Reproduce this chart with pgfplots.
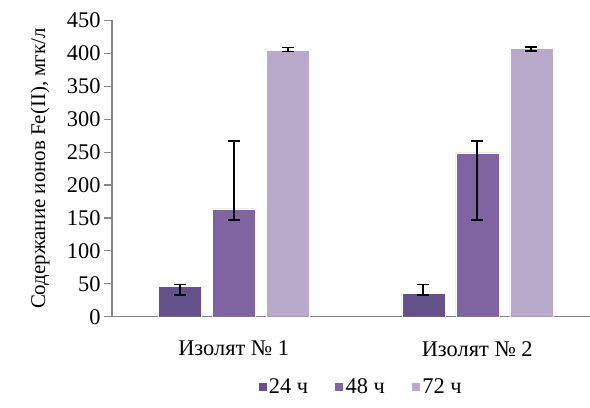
\documentclass[border=0pt]{standalone}
\usepackage{pgfplots}
\pgfplotsset{compat=1.18}
\usepackage{fontspec}
\setmainfont{Liberation Serif}
\definecolor{c24}{HTML}{65518A}
\definecolor{c48}{HTML}{8064A2}
\definecolor{c72}{HTML}{B7AACA}
\definecolor{axgray}{HTML}{868686}
\begin{document}
\begin{tikzpicture}[x=1bp,y=1bp]
\useasboundingbox (0,0) rectangle (590,407);
\begin{axis}[
  scale only axis,
  width=478bp, height=296.2bp,
  at={(112bp,90.3bp)}, anchor=south west,
  ybar=11bp, bar width=43bp,
  xmin=-0.5, xmax=1.463,
  ymin=0, ymax=450,
  ytick={0,50,...,450},
  xtick={0,1},
  xticklabels={Изолят № 1, Изолят № 2},
  extra x ticks={0.5},
  extra x tick labels={},
  extra x tick style={major tick length=6bp, tick style={draw=axgray, line width=1.2pt}},
  major x tick style={draw=none},
  xticklabel style={font=\fontsize{22.5}{24}\selectfont, anchor=center, yshift=-24bp},
  yticklabel style={font=\fontsize{22.5}{24}\selectfont},
  axis x line*=bottom, axis y line*=left,
  axis line style={draw=axgray, line width=1.2pt, -},
  y tick style={draw=axgray, line width=1.2pt},
  tick align=outside,
  major tick length=8bp,
  separate axis lines,
  /pgf/number format/assume math mode=true,
  ylabel={Содержание ионов Fe(II), мгк/л},
  every axis y label/.style={at={(axis description cs:0,0.5)}, rotate=90, anchor=center, yshift=72bp,
    font=\fontsize{21}{23}\selectfont},
  legend style={draw=none, fill=none, legend columns=3, at={(axis description cs:0.52,-0.236)}, anchor=center,
    font=\fontsize{22.5}{24}\selectfont, /tikz/every even column/.append style={column sep=24bp}},
  legend image code/.code={\fill[#1] (0bp,-4.5bp) rectangle (9bp,4.5bp);},
]
\addplot[fill=c24, draw=white, line width=0.4pt,
  error bars/.cd, y dir=both, y explicit,
  error bar style={line width=1.6pt, black},
  error mark options={rotate=90, mark size=6bp, line width=1.6pt, black}] coordinates {
  (0,46.6) += (0,2.6) -= (0,13.2)
  (1,35.3) += (0,13.9) -= (0,2.3)
};
\addplot[fill=c48, draw=white, line width=0.4pt,
  error bars/.cd, y dir=both, y explicit,
  error bar style={line width=1.6pt, black},
  error mark options={rotate=90, mark size=6bp, line width=1.6pt, black}] coordinates {
  (0,164) += (0,102.5) -= (0,17)
  (1,249) += (0,17.5) -= (0,102)
};
\addplot[fill=c72, draw=white, line width=0.4pt,
  error bars/.cd, y dir=both, y explicit,
  error bar style={line width=1.6pt, black},
  error mark options={rotate=90, mark size=6bp, line width=1.6pt, black}] coordinates {
  (0,405) += (0,4) -= (0,2)
  (1,407.5) += (0,2.5) -= (0,4)
};
\legend{24 ч, 48 ч, 72 ч}
\end{axis}
\end{tikzpicture}
\end{document}
